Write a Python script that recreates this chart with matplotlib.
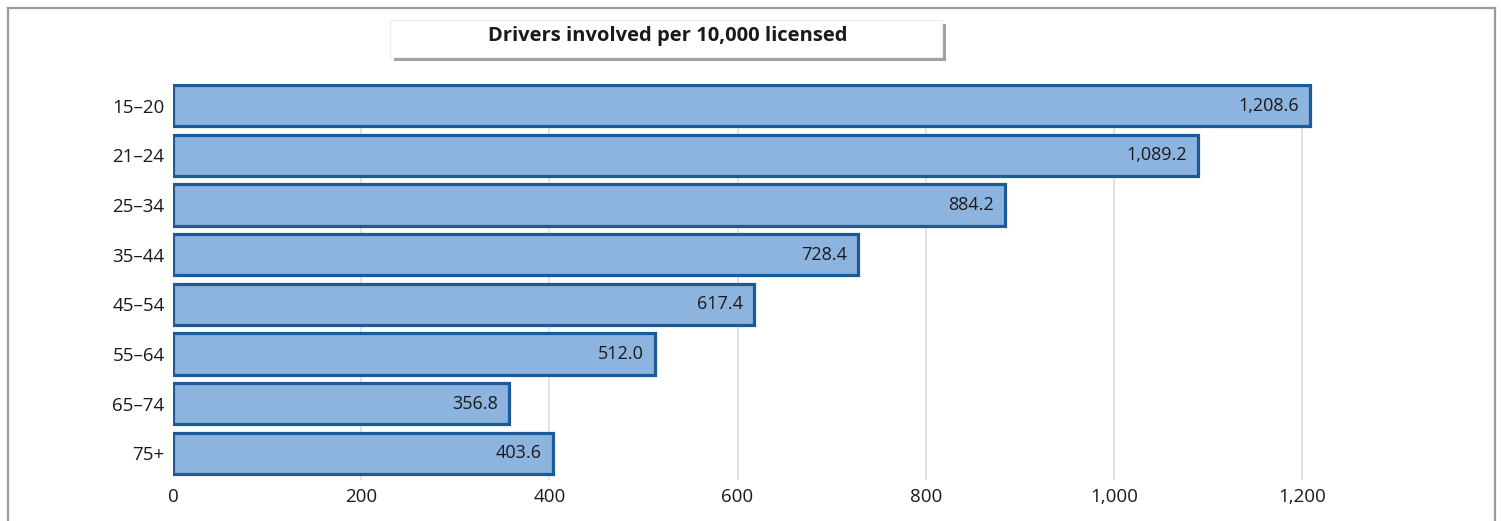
import matplotlib.pyplot as plt
from matplotlib.patches import Rectangle
from matplotlib.lines import Line2D

age_groups = ['15–20', '21–24', '25–34', '35–44', '45–54', '55–64', '65–74', '75+']
drivers_per_10k = [1208.6, 1089.2, 884.2, 728.4, 617.4, 512.0, 356.8, 403.6]
value_labels = ['1,208.6', '1,089.2', '884.2', '728.4', '617.4', '512.0', '356.8', '403.6']
x_ticks = [0, 200, 400, 600, 800, 1000, 1200]
x_tick_labels = ['0', '200', '400', '600', '800', '1,000', '1,200']
title = 'Drivers involved per 10,000 licensed'

W, H = 1501, 521
plt.rcParams['font.family'] = ['Open Sans', 'DejaVu Sans']

fig = plt.figure(figsize=(W / 100, H / 100), dpi=100)
fig.patch.set_facecolor('white')

# outer frame (open at the bottom)
for xs, ys in [([8, 8], [0, H - 8]), ([8, 1495], [H - 8, H - 8]), ([1495, 1495], [0, H - 8])]:
    fig.add_artist(Line2D([x / W for x in xs], [y / H for y in ys], color='#9a9a9a', lw=1.6))

# axes placed in pixels
left, right, top, bottom = 173, 1450, 84, 480
ax = fig.add_axes([left / W, 1 - bottom / H, (right - left) / W, (bottom - top) / H])
px_per_unit = (1302 - 173) / 1200
ax.set_xlim(0, (right - left) / px_per_unit)
ax.set_ylim(7.54, -0.44)

ypos = list(range(len(age_groups)))
ax.barh(ypos, drivers_per_10k, height=0.83, color='#8db3df', edgecolor='#1d5a98',
        linewidth=2.3, zorder=3)

for y, v, lab in zip(ypos, drivers_per_10k, value_labels):
    ax.annotate(lab, (v, y), xytext=(-8, 0), textcoords='offset points',
                ha='right', va='center', fontsize=13, color='#1a1a1a', zorder=4)

for t in x_ticks[1:]:
    ax.axvline(t, color='#dedada', lw=1.1, zorder=1)

ax.set_yticks(ypos)
ax.set_yticklabels(age_groups, fontsize=13.5, color='#1a1a1a')
ax.set_xticks(x_ticks)
ax.set_xticklabels(x_tick_labels, fontsize=13.5, color='#1a1a1a')
ax.tick_params(length=0, pad=6)
ax.tick_params(axis='x', pad=6)
for s in ax.spines.values():
    s.set_visible(False)

# title box with shadow
bx0, bx1, by0, by1 = 390, 942, 20, 57
fig.add_artist(Rectangle((bx0 / W + 4 / W, 1 - (by1 + 4) / H), (bx1 - bx0) / W, (by1 - by0) / H,
                         facecolor='#8a8a8a', edgecolor='none', alpha=0.8, zorder=5))
fig.add_artist(Rectangle((bx0 / W, 1 - by1 / H), (bx1 - bx0) / W, (by1 - by0) / H,
                         facecolor='white', edgecolor='#eeeeee', lw=0.8, zorder=6))
fig.text((bx0 + bx1) / 2 / W + 2 / W, 1 - 36 / H, title, ha='center', va='center',
         fontsize=14.5, fontweight='bold', color='#1a1a1a', zorder=7)

fig.savefig('out.png', dpi=100)
